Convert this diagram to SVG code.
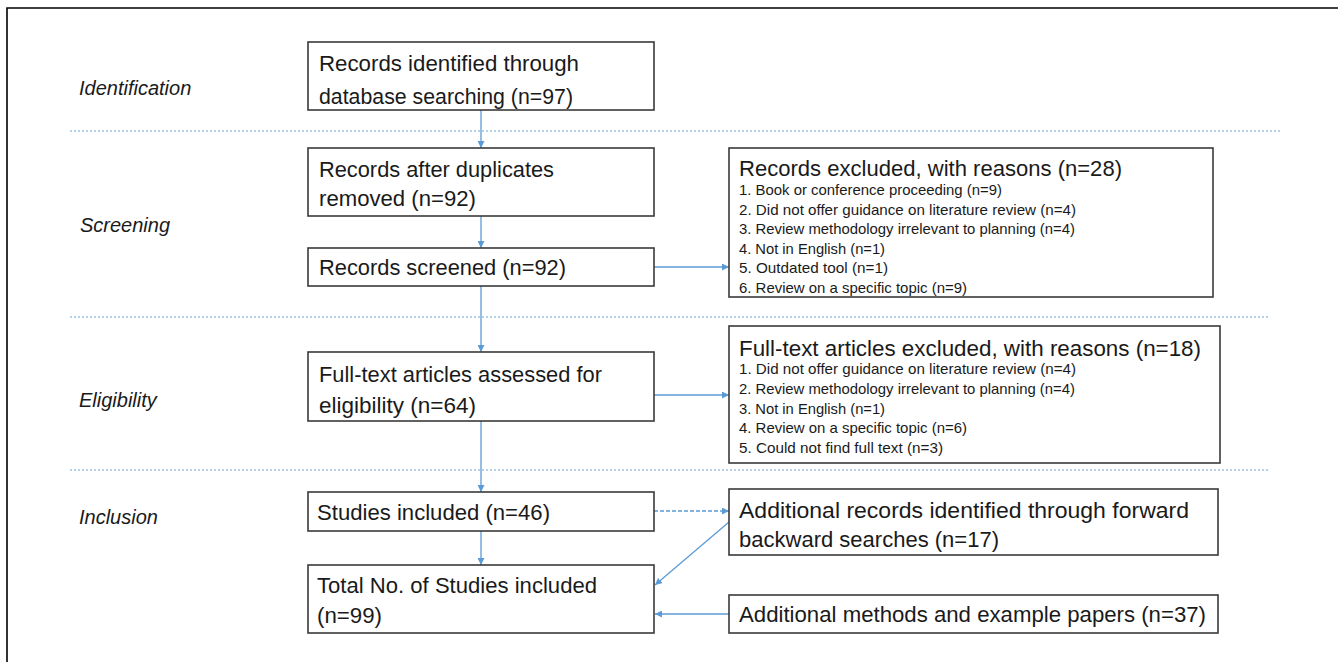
<svg xmlns="http://www.w3.org/2000/svg" width="1338" height="662" viewBox="0 0 1338 662">
<style>
.box{fill:#fff;stroke:#3a3a3a;stroke-width:1.6}
.t{font-family:"Liberation Sans",Arial,sans-serif;font-size:21.5px;fill:#1a1a1a}
.s{font-family:"Liberation Sans",Arial,sans-serif;font-size:15px;fill:#1a1a1a}
.lab{font-family:"Liberation Sans",Arial,sans-serif;font-size:20px;font-style:italic;fill:#1a1a1a}
.sep{stroke:#9dc3e6;stroke-width:1.3;stroke-dasharray:2 2;fill:none}
.c{stroke:#5b9bd5;stroke-width:1.3;fill:none;marker-end:url(#ah)}
.frame{stroke:#000;stroke-width:1.6;fill:none}
</style>
<defs>
<marker id="ah" viewBox="0 0 10 10" refX="10" refY="5" markerWidth="7" markerHeight="7" markerUnits="userSpaceOnUse" orient="auto">
<path d="M0,0 L10,5 L0,10 z" fill="#5b9bd5"/>
</marker>
</defs>
<rect width="1338" height="662" fill="#fff"/>
<path class="frame" d="M7,662 V8 H1338"/>
<g id="separators">
<line class="sep" x1="70" y1="131" x2="1280" y2="131"/>
<line class="sep" x1="70" y1="317" x2="1270" y2="317"/>
<line class="sep" x1="70" y1="470" x2="1270" y2="470"/>
</g>
<g id="labels">
<text class="lab" x="79" y="95">Identification</text>
<text class="lab" x="80" y="232">Screening</text>
<text class="lab" x="79" y="407">Eligibility</text>
<text class="lab" x="79" y="524">Inclusion</text>
</g>
<g id="connectors">
<line class="c" x1="481" y1="110" x2="481" y2="148"/>
<line class="c" x1="481" y1="216" x2="481" y2="248"/>
<line class="c" x1="481" y1="286" x2="481" y2="352"/>
<line class="c" x1="481" y1="421" x2="481" y2="492"/>
<line class="c" x1="481" y1="531" x2="481" y2="565"/>
<line class="c" x1="654" y1="267" x2="729" y2="267"/>
<line class="c" x1="654" y1="395" x2="729" y2="395"/>
<line class="c" x1="654" y1="511" x2="729" y2="511" stroke-dasharray="4 2"/>
<line class="c" x1="729" y1="522" x2="655" y2="585"/>
<line class="c" x1="729" y1="614" x2="655" y2="614"/>
</g>
<g id="n1"><rect class="box" x="308" y="42" width="346" height="68"/>
<text class="t" x="319" y="71" textLength="260" lengthAdjust="spacingAndGlyphs">Records identified through</text>
<text class="t" x="319" y="104" textLength="254" lengthAdjust="spacingAndGlyphs">database searching (n=97)</text></g>
<g id="n2"><rect class="box" x="308" y="148" width="346" height="68"/>
<text class="t" x="319" y="177" textLength="235" lengthAdjust="spacingAndGlyphs">Records after duplicates</text>
<text class="t" x="319" y="206" textLength="157" lengthAdjust="spacingAndGlyphs">removed (n=92)</text></g>
<g id="n3"><rect class="box" x="308" y="248" width="346" height="38"/>
<text class="t" x="319" y="275" textLength="247" lengthAdjust="spacingAndGlyphs">Records screened (n=92)</text></g>
<g id="n4"><rect class="box" x="308" y="352" width="346" height="69"/>
<text class="t" x="319" y="382" textLength="283" lengthAdjust="spacingAndGlyphs">Full-text articles assessed for</text>
<text class="t" x="319" y="413" textLength="157" lengthAdjust="spacingAndGlyphs">eligibility (n=64)</text></g>
<g id="n5"><rect class="box" x="308" y="492" width="346" height="39"/>
<text class="t" x="317" y="520" textLength="233" lengthAdjust="spacingAndGlyphs">Studies included (n=46)</text></g>
<g id="n6"><rect class="box" x="308" y="565" width="346" height="68"/>
<text class="t" x="317" y="593" textLength="280" lengthAdjust="spacingAndGlyphs">Total No. of Studies included</text>
<text class="t" x="317" y="623" textLength="65" lengthAdjust="spacingAndGlyphs">(n=99)</text></g>
<g id="nA"><rect class="box" x="729" y="148" width="484" height="149"/>
<text class="t" x="739" y="176" textLength="383" lengthAdjust="spacingAndGlyphs">Records excluded, with reasons (n=28)</text>
<text class="s" x="739" y="195" textLength="263" lengthAdjust="spacingAndGlyphs">1. Book or conference proceeding (n=9)</text>
<text class="s" x="739" y="214.5" textLength="337" lengthAdjust="spacingAndGlyphs">2. Did not offer guidance on literature review (n=4)</text>
<text class="s" x="739" y="234" textLength="336" lengthAdjust="spacingAndGlyphs">3. Review methodology irrelevant to planning (n=4)</text>
<text class="s" x="739" y="253.5" textLength="146" lengthAdjust="spacingAndGlyphs">4. Not in English (n=1)</text>
<text class="s" x="739" y="273" textLength="149" lengthAdjust="spacingAndGlyphs">5. Outdated tool (n=1)</text>
<text class="s" x="739" y="292.5" textLength="228" lengthAdjust="spacingAndGlyphs">6. Review on a specific topic  (n=9)</text></g>
<g id="nB"><rect class="box" x="729" y="326" width="491" height="137"/>
<text class="t" x="739" y="356" textLength="462" lengthAdjust="spacingAndGlyphs">Full-text articles excluded, with reasons (n=18)</text>
<text class="s" x="739" y="374" textLength="337" lengthAdjust="spacingAndGlyphs">1. Did not offer guidance on literature review (n=4)</text>
<text class="s" x="739" y="394" textLength="336" lengthAdjust="spacingAndGlyphs">2. Review methodology irrelevant to planning (n=4)</text>
<text class="s" x="739" y="413.5" textLength="146" lengthAdjust="spacingAndGlyphs">3. Not in English (n=1)</text>
<text class="s" x="739" y="433" textLength="228" lengthAdjust="spacingAndGlyphs">4. Review on a specific topic  (n=6)</text>
<text class="s" x="739" y="452.5" textLength="204" lengthAdjust="spacingAndGlyphs">5. Could not find full text (n=3)</text></g>
<g id="nC"><rect class="box" x="729" y="489" width="489" height="66"/>
<text class="t" x="739" y="518" textLength="450" lengthAdjust="spacingAndGlyphs">Additional records identified through forward</text>
<text class="t" x="739" y="547" textLength="260" lengthAdjust="spacingAndGlyphs">backward searches (n=17)</text></g>
<g id="nD"><rect class="box" x="729" y="595" width="489" height="38"/>
<text class="t" x="739" y="622" textLength="467" lengthAdjust="spacingAndGlyphs">Additional methods and example papers (n=37)</text></g>
</svg>
